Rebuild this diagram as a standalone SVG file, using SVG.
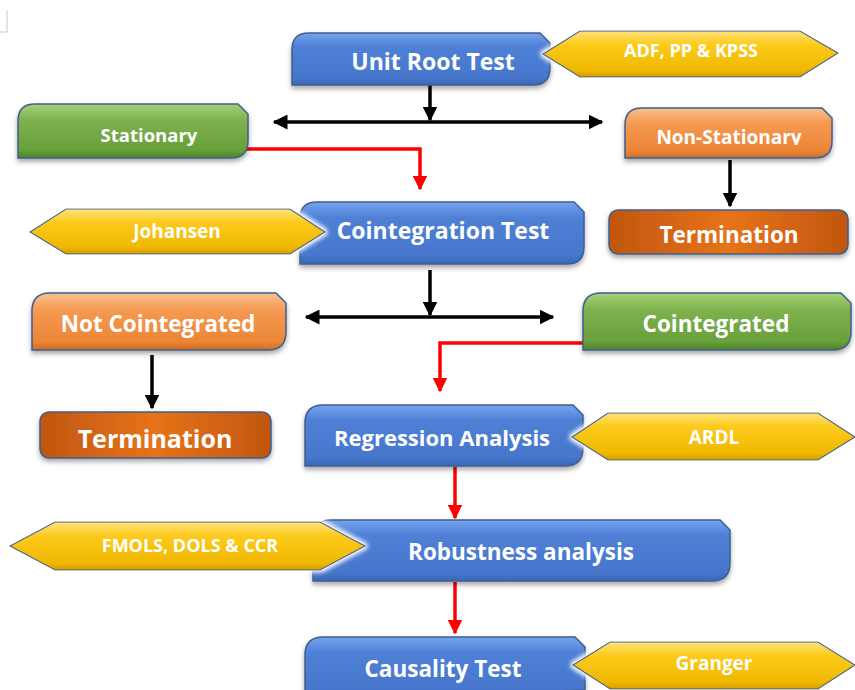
<svg xmlns="http://www.w3.org/2000/svg" width="855" height="690" viewBox="0 0 855 690">
<style>
  text { font-family: "Open Sans", "Noto Sans", "Liberation Sans", sans-serif; font-weight: bold; fill: #ffffff; text-anchor: middle; dominant-baseline: central; }
  .box { stroke: #3f5f8f; stroke-width: 1.5; filter: url(#shadow); }
  .blue { fill: url(#gBlue); }
  .green { fill: url(#gGreen); }
  .orange { fill: url(#gOrange); }
  .term { fill: url(#gTerm); stroke: #3f5f8f; stroke-width: 1.5; filter: url(#shadow); }
  .hex { fill: url(#gYellow); stroke: #3f5f8f; stroke-width: 1.2; filter: url(#glow); }
  .blk { stroke: #000; stroke-width: 3.5; fill: none; }
  .red { stroke: #ff0000; stroke-width: 3.5; fill: none; }
</style>
<defs>
  <linearGradient id="gBlue" x1="0" y1="0" x2="0" y2="1">
    <stop offset="0" stop-color="#77a4ee"/>
    <stop offset="0.25" stop-color="#4f80d6"/>
    <stop offset="0.85" stop-color="#4677cc"/>
    <stop offset="1" stop-color="#3a67b8"/>
  </linearGradient>
  <linearGradient id="gGreen" x1="0" y1="0" x2="0" y2="1">
    <stop offset="0" stop-color="#a6d078"/>
    <stop offset="0.3" stop-color="#7db14e"/>
    <stop offset="0.85" stop-color="#68a03a"/>
    <stop offset="1" stop-color="#4f8228"/>
  </linearGradient>
  <linearGradient id="gOrange" x1="0" y1="0" x2="0" y2="1">
    <stop offset="0" stop-color="#fbc08c"/>
    <stop offset="0.3" stop-color="#f49a52"/>
    <stop offset="0.85" stop-color="#ec8536"/>
    <stop offset="1" stop-color="#d26d20"/>
  </linearGradient>
  <linearGradient id="gTerm" x1="0" y1="0" x2="1" y2="0">
    <stop offset="0" stop-color="#c0560f"/>
    <stop offset="0.5" stop-color="#e8731a"/>
    <stop offset="1" stop-color="#c0560f"/>
  </linearGradient>
  <linearGradient id="gYellow" x1="0" y1="0" x2="0" y2="1">
    <stop offset="0" stop-color="#ffe37a"/>
    <stop offset="0.3" stop-color="#fcca1a"/>
    <stop offset="0.85" stop-color="#f0b800"/>
    <stop offset="1" stop-color="#d49e00"/>
  </linearGradient>
  <filter id="shadow" x="-10%" y="-20%" width="120%" height="150%">
    <feDropShadow dx="0" dy="3" stdDeviation="2.5" flood-color="#000" flood-opacity="0.35"/>
  </filter>
  <filter id="glow" x="-10%" y="-30%" width="120%" height="160%">
    <feMorphology in="SourceAlpha" operator="dilate" radius="2" result="d"/>
    <feGaussianBlur in="d" stdDeviation="2" result="b"/>
    <feFlood flood-color="#ffffff"/>
    <feComposite in2="b" operator="in" result="w"/>
    <feMerge><feMergeNode in="w"/><feMergeNode in="SourceGraphic"/></feMerge>
  </filter>
  <clipPath id="nsClip"><rect x="600" y="100" width="255" height="45"/></clipPath>
  <marker id="aBlk" viewBox="0 0 10 10" refX="9" refY="5" markerWidth="15" markerHeight="15" markerUnits="userSpaceOnUse" orient="auto-start-reverse">
    <path d="M0,0 L10,5 L0,10 Z" fill="#000"/>
  </marker>
  <marker id="aRed" viewBox="0 0 10 10" refX="9" refY="5" markerWidth="15" markerHeight="15" markerUnits="userSpaceOnUse" orient="auto">
    <path d="M0,0 L10,5 L0,10 Z" fill="#ff0000"/>
  </marker>
</defs>
<rect width="855" height="690" fill="#ffffff"/>
<path d="M0,32 L7,32 L7,10" fill="none" stroke="#c8c8c8" stroke-width="1"/>

<g id="connectors">
  <line class="blk" x1="430" y1="85" x2="430" y2="120" marker-end="url(#aBlk)"/>
  <line class="blk" x1="274" y1="122" x2="602" y2="122" marker-start="url(#aBlk)" marker-end="url(#aBlk)"/>
  <line class="blk" x1="730" y1="160" x2="730" y2="206" marker-end="url(#aBlk)"/>
  <polyline class="red" points="245,149 420,149 420,189" marker-end="url(#aRed)"/>
  <line class="blk" x1="430" y1="270" x2="430" y2="315" marker-end="url(#aBlk)"/>
  <line class="blk" x1="306" y1="317" x2="553" y2="317" marker-start="url(#aBlk)" marker-end="url(#aBlk)"/>
  <line class="blk" x1="152" y1="355" x2="152" y2="408" marker-end="url(#aBlk)"/>
  <polyline class="red" points="584,343 440,343 440,391" marker-end="url(#aRed)"/>
  <line class="red" x1="455" y1="467" x2="455" y2="518" marker-end="url(#aRed)"/>
  <line class="red" x1="455" y1="582" x2="455" y2="633" marker-end="url(#aRed)"/>
</g>

<g id="unit-root">
  <path class="box blue" d="M292,85 L292,50 Q292,33 309,33 L540,33 L550,43 L550,68 Q550,85 533,85 Z"/>
  <text x="433" y="61" font-size="23">Unit Root Test</text>
</g>
<g id="stationary">
  <path class="box green" d="M18,158 L18,121 Q18,104 35,104 L238,104 L248,114 L248,141 Q248,158 231,158 Z"/>
  <text x="149" y="134" font-size="18.5">Stationary</text>
</g>
<g id="non-stationary">
  <path class="box orange" d="M625,158 L625,125 Q625,108 642,108 L822,108 L832,118 L832,141 Q832,158 815,158 Z"/>
  <text x="729" y="137" font-size="19" clip-path="url(#nsClip)">Non-Stationary</text>
</g>
<g id="termination-right">
  <rect class="term" x="609" y="210" width="239" height="44" rx="9"/>
  <text x="729" y="234" font-size="22.5">Termination</text>
</g>
<g id="cointegration-test">
  <path class="box blue" d="M300,264 L300,219 Q300,202 317,202 L574,202 L584,212 L584,247 Q584,264 567,264 Z"/>
  <text x="443" y="230" font-size="23">Cointegration Test</text>
</g>
<g id="not-cointegrated">
  <path class="box orange" d="M32,350 L32,311 Q32,293 50,293 L276,293 L286,303 L286,332 Q286,350 268,350 Z"/>
  <text x="158" y="323" font-size="22.5">Not Cointegrated</text>
</g>
<g id="cointegrated">
  <path class="box green" d="M583,350 L583,311 Q583,293 601,293 L841,293 L851,303 L851,332 Q851,350 833,350 Z"/>
  <text x="716" y="323" font-size="22.5">Cointegrated</text>
</g>
<g id="termination-left">
  <rect class="term" x="40" y="412" width="231" height="46" rx="9"/>
  <text x="155" y="438" font-size="25">Termination</text>
</g>
<g id="regression">
  <path class="box blue" d="M305,466 L305,423 Q305,405 323,405 L573,405 L583,415 L583,448 Q583,466 565,466 Z"/>
  <text x="442" y="437" font-size="22">Regression Analysis</text>
</g>
<g id="robustness">
  <path class="box blue" d="M313,581 L313,538 Q313,520 331,520 L720,520 L730,530 L730,563 Q730,581 712,581 Z"/>
  <text x="521" y="551" font-size="22.5">Robustness analysis</text>
</g>
<g id="causality">
  <path class="box blue" d="M305,700 L305,655 Q305,637 323,637 L575,637 L585,647 L585,690 Z"/>
  <text x="443" y="668" font-size="22.5">Causality Test</text>
</g>

<g id="adf">
  <path class="hex" d="M543,54 L580,31 L800,31 L838,53 L800,77 L580,77 Z"/>
  <text x="691" y="50" font-size="18">ADF, PP &amp; KPSS</text>
</g>
<g id="johansen">
  <path class="hex" d="M30,232 L66,209 L290,209 L325,232 L290,254 L66,254 Z"/>
  <text x="177" y="231" font-size="19">Johansen</text>
</g>
<g id="ardl">
  <path class="hex" d="M572,437 L608,413 L818,413 L855,437 L818,460 L608,460 Z"/>
  <text x="714" y="437" font-size="19">ARDL</text>
</g>
<g id="fmols">
  <path class="hex" d="M10,546 L55,522 L320,522 L365,546 L320,570 L55,570 Z"/>
  <text x="190" y="545" font-size="18">FMOLS, DOLS &amp; CCR</text>
</g>
<g id="granger">
  <path class="hex" d="M573,665 L610,642 L818,642 L855,665 L818,689 L610,689 Z"/>
  <text x="714" y="663" font-size="19">Granger</text>
</g>
</svg>
